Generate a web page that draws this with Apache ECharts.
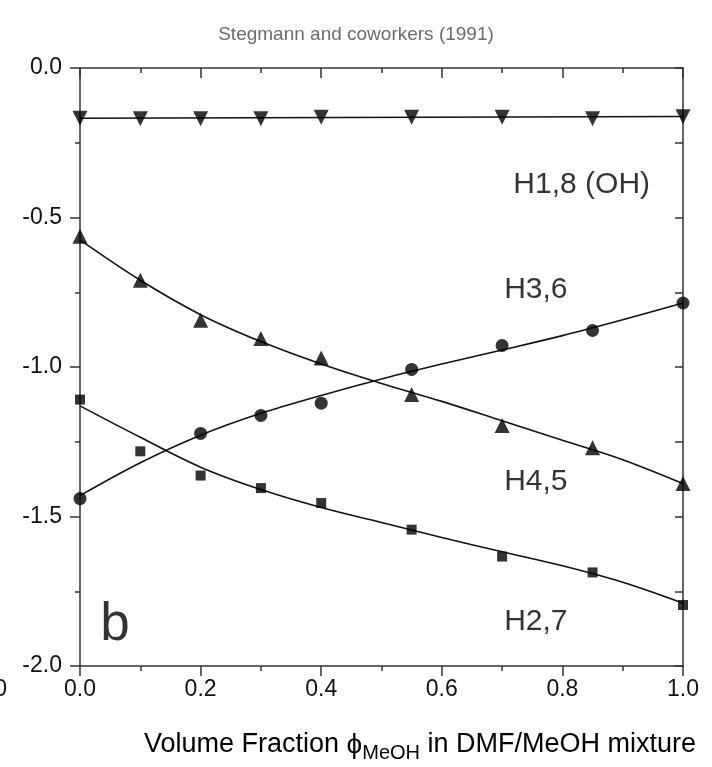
<!DOCTYPE html>
<html><head><meta charset="utf-8">
<script src="https://cdn.jsdelivr.net/npm/echarts@6/dist/echarts.min.js"></script>
<style>html,body{margin:0;padding:0;background:#fff}#c{width:712px;height:767px}</style>
</head><body><div id="c"></div>
<script>
// measured points
const xH18 = [0, 0.1, 0.2, 0.3, 0.4, 0.55, 0.7, 0.85, 1.0];
const yH18 = [-0.168, -0.17, -0.17, -0.17, -0.165, -0.165, -0.165, -0.17, -0.163];
const xH45 = [0, 0.1, 0.2, 0.3, 0.4, 0.55, 0.7, 0.85, 1.0];
const yH45 = [-0.563, -0.71, -0.844, -0.905, -0.97, -1.092, -1.196, -1.27, -1.39];
const xH36 = [0, 0.2, 0.3, 0.4, 0.55, 0.7, 0.85, 1.0];
const yH36 = [-1.44, -1.222, -1.162, -1.121, -1.008, -0.928, -0.878, -0.786];
const xH27 = [0, 0.1, 0.2, 0.3, 0.4, 0.55, 0.7, 0.85, 1.0];
const yH27 = [-1.109, -1.282, -1.363, -1.405, -1.455, -1.544, -1.634, -1.687, -1.796];
// fitted curves
const xFit = [0, 0.1, 0.2, 0.3, 0.4, 0.5, 0.6, 0.7, 0.8, 0.9, 1.0];
const fitH45 = [-0.575, -0.71, -0.825, -0.915, -0.99, -1.055, -1.115, -1.18, -1.245, -1.31, -1.39];
const fitH36 = [-1.43, -1.32, -1.228, -1.155, -1.095, -1.04, -0.99, -0.943, -0.895, -0.842, -0.786];
const fitH27 = [-1.13, -1.235, -1.335, -1.41, -1.47, -1.52, -1.57, -1.618, -1.665, -1.72, -1.79];
const xFitH18 = [0, 1.0];
const fitH18 = [-0.168, -0.162];
// annotations
const labelNames = ['H1,8 (OH)', 'H3,6', 'H4,5', 'H2,7', 'b'];
const labelX = [0.832, 0.756, 0.756, 0.756, 0.058];
const labelY = [-0.39, -0.743, -1.385, -1.853, -1.865];
const labelSize = [30, 30, 30, 30, 53];
const xTicks = ['0.0', '0.2', '0.4', '0.6', '0.8', '1.0'];

const zip = (a, b) => a.map((v, i) => [v, b[i]]);
const AX = '#333';
const font = 'Liberation Sans, Arial, sans-serif';

const chart = echarts.init(document.getElementById('c'), null, {renderer: 'canvas'});
const lineS = (x, y) => ({type: 'line', data: zip(x, y), smooth: 0.35, symbol: 'none',
  lineStyle: {color: '#111', width: 1.6}, z: 2, silent: true});
const scat = (x, y, sym, size, rot) => ({type: 'scatter', data: zip(x, y), symbol: sym,
  symbolSize: size, symbolRotate: rot || 0, itemStyle: {color: '#000'}, z: 3, silent: true});
const tickStyle = {color: AX, width: 1.5};
const axisBase = {
  axisLine: {onZero: false, lineStyle: {color: AX, width: 1.5}},
  splitLine: {show: false}
};

chart.setOption({
  animation: false,
  title: [
    {text: 'Stegmann and coworkers (1991)', left: 'center', top: 20,
     textStyle: {fontFamily: font, fontSize: 19, fontWeight: 'normal', color: '#6b6b6b'}},
    {text: '{a|Volume Fraction }{p|ϕ}{s|MeOH}{a| in DMF/MeOH mixture}', left: 139, top: 722,
     textStyle: {rich: {
       a: {fontFamily: font, fontSize: 27, fontWeight: 'normal', color: '#000'},
       p: {fontFamily: font, fontSize: 28, fontWeight: 'normal', color: '#000'},
       s: {fontFamily: font, fontSize: 20, fontWeight: 'normal', color: '#000', verticalAlign: 'bottom', padding: [16, 0, 0, 0]}
     }}}
  ],
  graphic: [{type: 'text', left: -25, top: 678,
    style: {text: '1.0', font: '23px Liberation Sans, Arial, sans-serif', fill: '#111'}}],
  grid: {left: 80, right: 29, top: 68, bottom: 101},
  xAxis: [
    Object.assign({type: 'value', min: 0, max: 1, interval: 0.2, position: 'bottom',
     axisTick: {inside: false, length: 10, lineStyle: tickStyle},
     minorTick: {show: true, splitNumber: 2, length: 5, lineStyle: tickStyle},
     axisLabel: {fontFamily: font, fontSize: 23, color: '#111', margin: 12,
       formatter: v => xTicks[Math.round(v / 0.2)]}}, axisBase),
    Object.assign({type: 'value', min: 0, max: 1, interval: 0.2, position: 'top',
     axisTick: {inside: true, length: 10, lineStyle: tickStyle},
     minorTick: {show: true, splitNumber: 2, length: 5, lineStyle: tickStyle},
     axisLabel: {show: false}}, axisBase)
  ],
  yAxis: [
    Object.assign({type: 'value', min: -2, max: 0, interval: 0.5, position: 'left',
     axisTick: {inside: false, length: 10, lineStyle: tickStyle},
     minorTick: {show: true, splitNumber: 2, length: 5, lineStyle: tickStyle},
     axisLabel: {fontFamily: font, fontSize: 23, color: '#111', margin: 18,
       formatter: v => v.toFixed(1)}}, axisBase),
    Object.assign({type: 'value', min: -2, max: 0, interval: 0.5, position: 'right',
     axisTick: {inside: true, length: 8, lineStyle: tickStyle},
     minorTick: {show: true, splitNumber: 2, length: 8, lineStyle: tickStyle},
     axisLabel: {show: false}}, axisBase)
  ],
  series: [
    lineS(xFitH18, fitH18), lineS(xFit, fitH45), lineS(xFit, fitH36), lineS(xFit, fitH27),
    scat(xH18, yH18, 'triangle', 15, 180),
    scat(xH45, yH45, 'triangle', 15),
    scat(xH36, yH36, 'circle', 13),
    scat(xH27, yH27, 'rect', 10),
    {type: 'scatter', symbolSize: 0, silent: true, z: 4,
     data: labelNames.map((n, i) => ({value: [labelX[i], labelY[i]], name: n,
       label: {show: true, position: 'inside', formatter: n,
         fontFamily: font, color: '#000', fontSize: labelSize[i]}})),
     label: {show: true}}
  ]
});
</script></body></html>
